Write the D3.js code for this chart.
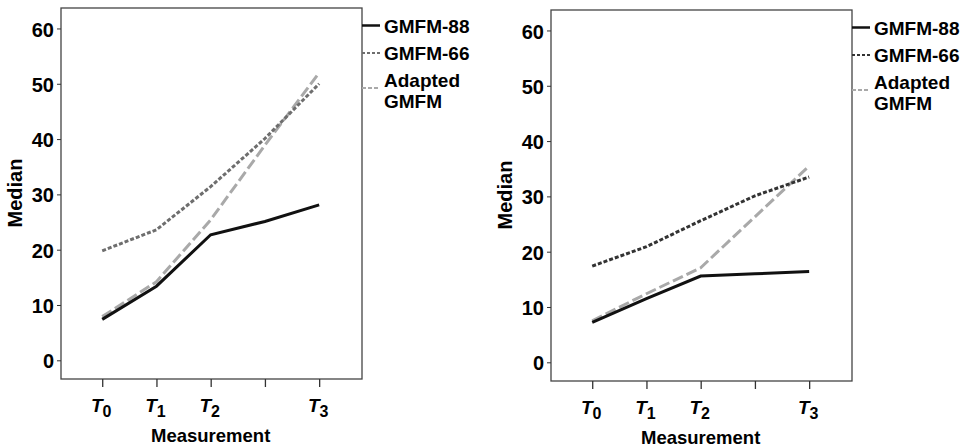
<!DOCTYPE html>
<html>
<head>
<meta charset="utf-8">
<script src="https://cdn.jsdelivr.net/npm/d3@7"></script>
<style>
  body { margin: 0; background: #fff; }
  svg { display: block; font-family: "Liberation Sans", Arial, sans-serif; font-weight: bold; }
</style>
</head>
<body>
<script>
// measurement positions (4th slot has a tick but no label)
var positions = [0, 1, 2, 3, 4];
var tickMain = ["T", "T", "T", "", "T"];
var tickSub = ["0", "1", "2", "", "3"];
var yTicks = [0, 10, 20, 30, 40, 50, 60];

var seriesNames = ["GMFM-88", "GMFM-66", "Adapted GMFM"];

// left panel medians
var left88 = [7.4, 13.4, 22.7, 25.1, 28.1];
var left66 = [19.8, 23.6, 31.4, 40.1, 50.0];
var leftAdapted = [7.9, 14.2, 25.4, 38.9, 52.0];

// right panel medians
var right88 = [7.2, 11.5, 15.6, 16.0, 16.4];
var right66 = [17.4, 20.9, 25.6, 30.1, 33.5];
var rightAdapted = [7.5, 12.4, 17.1, 26.3, 35.5];

var W = 970, H = 448;
var PW = 301, PH = 371;

var svg = d3.select("body")
    .append("svg")
    .attr("width", W)
    .attr("height", H);

var x = d3.scaleLinear().domain([-0.76, 4.79]).range([0, PW]);
var y = d3.scaleLinear().domain([-3.38, 63.7]).range([PH, 0]);

var line = d3.line()
    .x(function (d, i) { return x(positions[i]); })
    .y(function (d) { return y(d); });

function drawPanel(left, top, values, color66) {
    var g = svg.append("g").attr("transform", "translate(" + left + "," + top + ")");

    var styles = [
        {stroke: "#111", dash: null},
        {stroke: color66, dash: "4,2"},
        {stroke: "#a9a9a9", dash: "11,4"}
    ];

    // frame
    g.append("rect")
        .attr("width", PW)
        .attr("height", PH)
        .attr("fill", "none")
        .attr("stroke", "#444")
        .attr("stroke-width", 1.3);

    var yAxis = g.append("g")
        .call(d3.axisLeft(y).tickValues(yTicks).tickSize(4).tickPadding(3));
    yAxis.select(".domain").remove();
    yAxis.selectAll("line").attr("stroke", "#333");
    yAxis.selectAll("text")
        .attr("font-size", 20)
        .attr("font-family", "Liberation Sans, Arial, sans-serif")
        .attr("font-weight", "bold")
        .attr("dy", "0.38em")
        .attr("fill", "#000");

    var xAxis = g.append("g")
        .attr("transform", "translate(0," + PH + ")")
        .call(d3.axisBottom(x).tickValues(positions).tickSize(8).tickFormat(""));
    xAxis.select(".domain").remove();
    xAxis.selectAll("line").attr("stroke", "#333").attr("stroke-width", 1.3);

    var lab = g.append("g").selectAll("text")
        .data(positions)
        .enter()
        .append("text")
        .attr("x", function (d) { return x(d) - 1; })
        .attr("y", PH + 33)
        .attr("text-anchor", "middle")
        .attr("fill", "#000");
    lab.append("tspan")
        .attr("font-size", 19)
        .attr("font-style", "italic")
        .text(function (d, i) { return tickMain[i]; });
    lab.append("tspan")
        .attr("font-size", 16)
        .attr("dy", 4.5)
        .text(function (d, i) { return tickSub[i]; });

    g.append("text")
        .attr("x", x(2))
        .attr("y", PH + 63)
        .attr("text-anchor", "middle")
        .attr("font-size", 18.5)
        .attr("fill", "#000")
        .text("Measurement");

    g.append("text")
        .attr("transform", "translate(-39," + (185) + ") rotate(-90)")
        .attr("text-anchor", "middle")
        .attr("font-size", 20)
        .attr("fill", "#000")
        .text("Median");

    // series lines, drawn 88 last so it sits on top
    [2, 1, 0].forEach(function (k) {
        g.append("path")
            .datum(values[k])
            .attr("d", line)
            .attr("fill", "none")
            .attr("stroke", styles[k].stroke)
            .attr("stroke-width", 3)
            .attr("stroke-dasharray", styles[k].dash);
    });

    // legend
    var legY = [17.5, 45, 80];
    var leg = g.append("g").attr("transform", "translate(" + PW + ",0)");
    seriesNames.forEach(function (name, k) {
        leg.append("line")
            .attr("x1", 0).attr("x2", 18)
            .attr("y1", legY[k]).attr("y2", legY[k])
            .attr("stroke", styles[k].stroke)
            .attr("stroke-width", k == 0 ? 2.5 : 2)
            .attr("stroke-dasharray", k == 0 ? null : (k == 1 ? "3,2" : "4,2"));
        var t = leg.append("text")
            .attr("x", 22)
            .attr("font-size", 19)
            .attr("fill", "#000");
        if (k == 2) {
            var parts = name.split(" ");
            t.append("tspan").attr("x", 22).attr("y", 72 + 7).text(parts[0]);
            t.append("tspan").attr("x", 22).attr("y", 93 + 7).text(parts[1]);
        } else {
            t.attr("y", legY[k] + 7).text(name);
        }
    });
}

drawPanel(61, 8, [left88, left66, leftAdapted], "#6e6e6e");
drawPanel(551, 10, [right88, right66, rightAdapted], "#333");
</script>
</body>
</html>
